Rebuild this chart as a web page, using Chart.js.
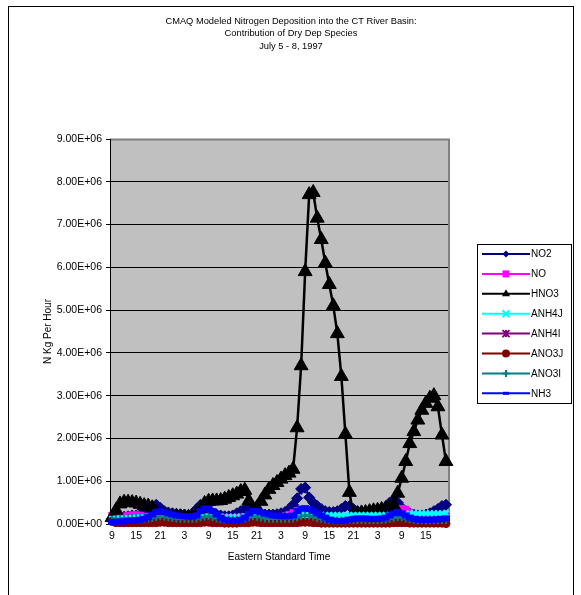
<!DOCTYPE html>
<html>
<head>
<meta charset="utf-8">
<title>CMAQ Dry Dep Species</title>
<script src="https://cdn.jsdelivr.net/npm/chart.js@4.4.1/dist/chart.umd.min.js"></script>
<style>
  html, body { margin: 0; padding: 0; background: #fff; }
  #wrap { position: relative; width: 581px; height: 595px; }
</style>
</head>
<body>
<div id="wrap"><canvas id="depChart" width="581" height="595"></canvas></div>
<script>
// ==================== データ ====================
// 時刻 (EST) 7/5 9時 〜 7/8 20時
const hours = [
  9, 10, 11, 12, 13, 14, 15, 16, 17, 18, 19, 20, 21, 22, 23,
  0, 1, 2, 3, 4, 5, 6, 7, 8, 9, 10, 11, 12, 13, 14, 15, 16, 17, 18, 19, 20, 21, 22, 23,
  0, 1, 2, 3, 4, 5, 6, 7, 8, 9, 10, 11, 12, 13, 14, 15, 16, 17, 18, 19, 20, 21, 22, 23,
  0, 1, 2, 3, 4, 5, 6, 7, 8, 9, 10, 11, 12, 13, 14, 15, 16, 17, 18, 19, 20
];

const seriesNames = ['NO2', 'NO', 'HNO3', 'ANH4J', 'ANH4I', 'ANO3J', 'ANO3I', 'NH3'];

const no2 = [
  0.12e6, 0.13e6, 0.15e6, 0.17e6, 0.18e6, 0.20e6, 0.20e6, 0.22e6, 0.25e6, 0.30e6, 0.38e6, 0.45e6, 0.38e6, 0.30e6, 0.27e6,
  0.25e6, 0.24e6, 0.23e6, 0.22e6, 0.21e6, 0.25e6, 0.35e6, 0.45e6, 0.35e6, 0.30e6, 0.25e6, 0.22e6, 0.20e6, 0.18e6, 0.18e6,
  0.20e6, 0.25e6, 0.30e6, 0.35e6, 0.40e6, 0.30e6, 0.25e6, 0.23e6, 0.22e6, 0.22e6, 0.22e6, 0.23e6, 0.25e6, 0.28e6,
  0.35e6, 0.45e6, 0.60e6, 0.82e6, 0.85e6, 0.62e6, 0.50e6, 0.42e6, 0.35e6, 0.30e6, 0.28e6, 0.28e6, 0.30e6, 0.35e6,
  0.42e6, 0.42e6, 0.35e6, 0.30e6, 0.27e6, 0.25e6, 0.25e6, 0.25e6, 0.27e6, 0.30e6,
  0.38e6, 0.50e6, 0.55e6, 0.50e6, 0.38e6, 0.30e6, 0.25e6, 0.22e6, 0.20e6, 0.20e6, 0.22e6, 0.25e6, 0.30e6, 0.35e6, 0.42e6, 0.45e6
];

const no = [
  0.20e6, 0.18e6, 0.17e6, 0.18e6, 0.20e6, 0.21e6, 0.21e6, 0.20e6, 0.18e6, 0.17e6, 0.16e6, 0.16e6, 0.15e6, 0.15e6, 0.15e6,
  0.15e6, 0.14e6, 0.14e6, 0.14e6, 0.15e6, 0.20e6, 0.27e6, 0.28e6, 0.22e6, 0.18e6, 0.16e6, 0.15e6, 0.15e6, 0.15e6, 0.15e6,
  0.15e6, 0.15e6, 0.16e6, 0.17e6, 0.18e6, 0.17e6, 0.16e6, 0.15e6, 0.15e6, 0.15e6, 0.15e6, 0.15e6, 0.16e6, 0.18e6,
  0.22e6, 0.26e6, 0.31e6, 0.33e6, 0.30e6, 0.24e6, 0.20e6, 0.18e6, 0.17e6, 0.16e6, 0.16e6, 0.16e6, 0.16e6, 0.16e6,
  0.17e6, 0.18e6, 0.18e6, 0.17e6, 0.17e6, 0.17e6, 0.17e6, 0.17e6, 0.17e6, 0.18e6,
  0.19e6, 0.21e6, 0.24e6, 0.30e6, 0.36e6, 0.34e6, 0.27e6, 0.22e6, 0.20e6, 0.19e6, 0.18e6, 0.18e6, 0.18e6, 0.18e6, 0.18e6, 0.18e6
];

const hno3 = [
  0.15e6, 0.32e6, 0.47e6, 0.51e6, 0.51e6, 0.50e6, 0.49e6, 0.46e6, 0.43e6, 0.42e6, 0.38e6, 0.26e6, 0.20e6, 0.18e6, 0.18e6,
  0.17e6, 0.17e6, 0.16e6, 0.16e6, 0.16e6, 0.17e6, 0.23e6, 0.36e6, 0.48e6, 0.53e6, 0.54e6, 0.54e6, 0.55e6, 0.58e6, 0.62e6,
  0.66e6, 0.70e6, 0.76e6, 0.79e6, 0.54e6, 0.27e6, 0.38e6, 0.53e6, 0.68e6, 0.81e6, 0.90e6, 0.97e6, 1.05e6, 1.13e6,
  1.19e6, 1.28e6, 2.25e6, 3.70e6, 5.90e6, 7.70e6, 7.75e6, 7.15e6, 6.65e6, 6.10e6, 5.60e6, 5.10e6, 4.45e6, 3.45e6,
  2.10e6, 0.74e6, 0.22e6, 0.24e6, 0.26e6, 0.27e6, 0.29e6, 0.31e6, 0.32e6, 0.34e6,
  0.36e6, 0.39e6, 0.44e6, 0.72e6, 1.07e6, 1.46e6, 1.88e6, 2.16e6, 2.43e6, 2.66e6, 2.82e6, 2.94e6, 3.00e6, 2.74e6, 2.08e6, 1.46e6
];

const anh4j = [
  0.12e6, 0.12e6, 0.13e6, 0.13e6, 0.14e6, 0.14e6, 0.15e6, 0.15e6, 0.15e6, 0.15e6, 0.15e6, 0.16e6, 0.16e6, 0.16e6, 0.16e6,
  0.16e6, 0.16e6, 0.16e6, 0.16e6, 0.16e6, 0.16e6, 0.17e6, 0.17e6, 0.17e6, 0.17e6, 0.17e6, 0.17e6, 0.17e6, 0.17e6, 0.17e6,
  0.17e6, 0.17e6, 0.17e6, 0.18e6, 0.18e6, 0.18e6, 0.18e6, 0.18e6, 0.18e6, 0.18e6, 0.18e6, 0.18e6, 0.18e6, 0.19e6,
  0.19e6, 0.20e6, 0.20e6, 0.20e6, 0.21e6, 0.21e6, 0.21e6, 0.21e6, 0.21e6, 0.21e6, 0.21e6, 0.21e6, 0.21e6, 0.21e6,
  0.21e6, 0.21e6, 0.21e6, 0.21e6, 0.21e6, 0.21e6, 0.21e6, 0.21e6, 0.21e6, 0.21e6,
  0.21e6, 0.21e6, 0.21e6, 0.22e6, 0.23e6, 0.24e6, 0.25e6, 0.25e6, 0.25e6, 0.25e6, 0.25e6, 0.25e6, 0.25e6, 0.25e6, 0.25e6, 0.25e6
];

const anh4i = [
  0.05e6, 0.05e6, 0.05e6, 0.05e6, 0.05e6, 0.05e6, 0.05e6, 0.05e6, 0.05e6, 0.05e6, 0.05e6, 0.06e6, 0.06e6, 0.06e6, 0.05e6,
  0.05e6, 0.05e6, 0.05e6, 0.05e6, 0.05e6, 0.05e6, 0.05e6, 0.06e6, 0.06e6, 0.06e6, 0.05e6, 0.05e6, 0.05e6, 0.05e6, 0.05e6,
  0.05e6, 0.05e6, 0.05e6, 0.05e6, 0.06e6, 0.06e6, 0.06e6, 0.05e6, 0.05e6, 0.05e6, 0.05e6, 0.05e6, 0.05e6, 0.05e6,
  0.05e6, 0.05e6, 0.06e6, 0.06e6, 0.06e6, 0.06e6, 0.05e6, 0.05e6, 0.05e6, 0.05e6, 0.05e6, 0.05e6, 0.05e6, 0.05e6,
  0.05e6, 0.05e6, 0.05e6, 0.05e6, 0.05e6, 0.05e6, 0.05e6, 0.05e6, 0.05e6, 0.05e6,
  0.05e6, 0.05e6, 0.06e6, 0.06e6, 0.06e6, 0.05e6, 0.05e6, 0.05e6, 0.05e6, 0.05e6, 0.05e6, 0.05e6, 0.05e6, 0.05e6, 0.05e6, 0.05e6
];

const ano3j = [
  0.06e6, 0.03e6, 0.03e6, 0.03e6, 0.03e6, 0.03e6, 0.03e6, 0.03e6, 0.03e6, 0.03e6, 0.03e6, 0.03e6, 0.04e6, 0.04e6, 0.03e6,
  0.03e6, 0.03e6, 0.03e6, 0.03e6, 0.03e6, 0.03e6, 0.03e6, 0.03e6, 0.04e6, 0.04e6, 0.03e6, 0.03e6, 0.03e6, 0.02e6, 0.02e6,
  0.02e6, 0.02e6, 0.03e6, 0.03e6, 0.03e6, 0.04e6, 0.04e6, 0.03e6, 0.03e6, 0.03e6, 0.03e6, 0.03e6, 0.03e6, 0.03e6,
  0.03e6, 0.03e6, 0.03e6, 0.04e6, 0.04e6, 0.04e6, 0.03e6, 0.03e6, 0.02e6, 0.02e6, 0.02e6, 0.02e6, 0.02e6, 0.02e6,
  0.02e6, 0.02e6, 0.02e6, 0.02e6, 0.02e6, 0.02e6, 0.02e6, 0.02e6, 0.02e6, 0.02e6,
  0.02e6, 0.02e6, 0.03e6, 0.03e6, 0.03e6, 0.03e6, 0.02e6, 0.02e6, 0.02e6, 0.02e6, 0.02e6, 0.02e6, 0.02e6, 0.02e6, 0.02e6, 0.01e6
];

const ano3i = [
  0.10e6, 0.11e6, 0.12e6, 0.13e6, 0.14e6, 0.14e6, 0.14e6, 0.14e6, 0.13e6, 0.13e6, 0.14e6, 0.16e6, 0.18e6, 0.17e6, 0.15e6,
  0.14e6, 0.13e6, 0.12e6, 0.12e6, 0.12e6, 0.12e6, 0.13e6, 0.15e6, 0.17e6, 0.18e6, 0.16e6, 0.13e6, 0.11e6, 0.10e6, 0.10e6,
  0.10e6, 0.10e6, 0.11e6, 0.13e6, 0.16e6, 0.18e6, 0.17e6, 0.15e6, 0.13e6, 0.12e6, 0.12e6, 0.12e6, 0.12e6, 0.12e6,
  0.12e6, 0.13e6, 0.15e6, 0.18e6, 0.20e6, 0.19e6, 0.17e6, 0.14e6, 0.12e6, 0.10e6, 0.09e6, 0.08e6, 0.08e6, 0.08e6,
  0.08e6, 0.09e6, 0.09e6, 0.09e6, 0.09e6, 0.09e6, 0.09e6, 0.09e6, 0.09e6, 0.09e6,
  0.10e6, 0.12e6, 0.14e6, 0.16e6, 0.15e6, 0.13e6, 0.11e6, 0.10e6, 0.09e6, 0.09e6, 0.09e6, 0.09e6, 0.09e6, 0.09e6, 0.09e6, 0.09e6
];

const nh3 = [
  0.05e6, 0.05e6, 0.06e6, 0.06e6, 0.07e6, 0.08e6, 0.09e6, 0.10e6, 0.12e6, 0.16e6, 0.22e6, 0.28e6, 0.30e6, 0.28e6, 0.25e6,
  0.22e6, 0.20e6, 0.19e6, 0.18e6, 0.17e6, 0.17e6, 0.20e6, 0.30e6, 0.36e6, 0.36e6, 0.30e6, 0.22e6, 0.15e6, 0.10e6, 0.08e6,
  0.08e6, 0.08e6, 0.10e6, 0.15e6, 0.25e6, 0.30e6, 0.30e6, 0.27e6, 0.24e6, 0.22e6, 0.20e6, 0.19e6, 0.18e6, 0.18e6,
  0.18e6, 0.20e6, 0.30e6, 0.36e6, 0.37e6, 0.35e6, 0.30e6, 0.25e6, 0.20e6, 0.15e6, 0.10e6, 0.08e6, 0.07e6, 0.07e6,
  0.08e6, 0.10e6, 0.12e6, 0.13e6, 0.13e6, 0.13e6, 0.12e6, 0.12e6, 0.12e6, 0.13e6,
  0.15e6, 0.20e6, 0.25e6, 0.28e6, 0.25e6, 0.20e6, 0.15e6, 0.12e6, 0.10e6, 0.10e6, 0.10e6, 0.10e6, 0.10e6, 0.11e6, 0.12e6, 0.13e6
];

const yTicks = [0, 1e6, 2e6, 3e6, 4e6, 5e6, 6e6, 7e6, 8e6, 9e6];

const titleLines = [
  'CMAQ Modeled Nitrogen Deposition into the CT River Basin:',
  'Contribution of Dry Dep Species',
  'July 5 - 8, 1997'
];

// ==================== 見た目 ====================
const FONT = 'Arial, "Liberation Sans", sans-serif';

// 系列ごとのスタイル (Excel の既定色)
const seriesStyles = [
  { color: '#000080', fill: '#000080', pointStyle: 'rectRot',  radius: 5.5, pointWidth: 1 },
  { color: '#FF00FF', fill: '#FF00FF', pointStyle: 'rect',     radius: 4.5, pointWidth: 1 },
  { color: '#000000', fill: '#000000', pointStyle: 'triangle', radius: 8,   pointWidth: 1 },
  { color: '#00FFFF', fill: '#00FFFF', pointStyle: 'crossRot', radius: 4,   pointWidth: 2 },
  { color: '#800080', fill: '#800080', pointStyle: 'star',     radius: 4,   pointWidth: 2 },
  { color: '#800000', fill: '#800000', pointStyle: 'circle',   radius: 4,   pointWidth: 1 },
  { color: '#008080', fill: '#008080', pointStyle: 'cross',    radius: 4,   pointWidth: 2 },
  { color: '#0000FF', fill: '#0000FF', pointStyle: 'line',     radius: 4,   pointWidth: 6 }
];

const seriesData = [no2, no, hno3, anh4j, anh4i, ano3j, ano3i, nh3];

// 指数表記 "9.00E+06"
function sciLabel(v) {
  if (v === 0) return '0.00E+00';
  const e = Math.floor(Math.log10(v) + 1e-9);
  const m = v / Math.pow(10, e);
  return m.toFixed(2) + 'E+' + String(e).padStart(2, '0');
}

// 凡例のマーカー (小さめ)
function drawLegendMarker(ctx, style, x, y) {
  const r = 3.5;
  ctx.save();
  ctx.fillStyle = style.fill;
  ctx.strokeStyle = style.color;
  ctx.lineWidth = 2;
  ctx.beginPath();
  switch (style.pointStyle) {
    case 'rectRot':
      ctx.moveTo(x, y - r); ctx.lineTo(x + r, y); ctx.lineTo(x, y + r); ctx.lineTo(x - r, y);
      ctx.closePath(); ctx.fill();
      break;
    case 'rect':
      ctx.fillRect(x - 3.5, y - 3.5, 7, 7);
      break;
    case 'triangle':
      ctx.moveTo(x, y - 4.5); ctx.lineTo(x + 4, y + 2.5); ctx.lineTo(x - 4, y + 2.5);
      ctx.closePath(); ctx.fill();
      break;
    case 'crossRot':
      ctx.moveTo(x - r, y - r); ctx.lineTo(x + r, y + r);
      ctx.moveTo(x + r, y - r); ctx.lineTo(x - r, y + r);
      ctx.stroke();
      break;
    case 'star':
      ctx.moveTo(x - r, y - r); ctx.lineTo(x + r, y + r);
      ctx.moveTo(x + r, y - r); ctx.lineTo(x - r, y + r);
      ctx.moveTo(x, y - r); ctx.lineTo(x, y + r);
      ctx.stroke();
      break;
    case 'circle':
      ctx.arc(x, y, 4, 0, Math.PI * 2); ctx.fill();
      break;
    case 'cross':
      ctx.moveTo(x - r, y); ctx.lineTo(x + r, y);
      ctx.moveTo(x, y - r); ctx.lineTo(x, y + r);
      ctx.stroke();
      break;
    case 'line':
      ctx.fillRect(x - 3, y - 1.5, 6, 3);
      break;
  }
  ctx.restore();
}

// 背景・枠・タイトル・凡例
const decorPlugin = {
  id: 'decor',
  beforeDraw(chart) {
    const { ctx, chartArea: a } = chart;
    ctx.save();
    ctx.fillStyle = '#FFFFFF';
    ctx.fillRect(0, 0, chart.width, chart.height);
    ctx.fillStyle = '#C0C0C0';
    ctx.fillRect(a.left, a.top, a.right - a.left, a.bottom - a.top);
    ctx.restore();
  },
  beforeDatasetsDraw(chart) {
    const { ctx, chartArea: a } = chart;
    ctx.save();
    ctx.strokeStyle = '#808080';
    ctx.lineWidth = 2;
    ctx.beginPath();
    ctx.moveTo(a.left, a.top + 0.5);
    ctx.lineTo(a.right + 1, a.top + 0.5);
    ctx.lineTo(a.right + 1, a.bottom);
    ctx.stroke();
    ctx.strokeStyle = '#000000';
    ctx.lineWidth = 1;
    ctx.beginPath();
    ctx.moveTo(a.left + 0.5, a.top);
    ctx.lineTo(a.left + 0.5, a.bottom + 0.5);
    ctx.lineTo(a.right + 1, a.bottom + 0.5);
    ctx.stroke();
    ctx.restore();
  },
  afterDraw(chart) {
    const { ctx, chartArea: a } = chart;
    ctx.save();

    // 外枠
    ctx.strokeStyle = '#000000';
    ctx.lineWidth = 1;
    ctx.strokeRect(8.5, 6.5, 565, 600);

    // タイトル
    ctx.fillStyle = '#000000';
    ctx.font = '9.3px ' + FONT;
    ctx.textAlign = 'center';
    ctx.textBaseline = 'middle';
    titleLines.forEach((t, i) => ctx.fillText(t, 291, 21 + i * 12.5));

    // 軸タイトル
    ctx.font = '10px ' + FONT;
    ctx.fillText('Eastern Standard Time', (a.left + a.right) / 2, 557);
    ctx.save();
    ctx.translate(48, (a.top + a.bottom) / 2);
    ctx.rotate(-Math.PI / 2);
    ctx.fillText('N Kg Per Hour', 0, 0);
    ctx.restore();

    // 凡例
    const lx = 477.5, ly = 244.5, lw = 94, lh = 159;
    ctx.fillStyle = '#FFFFFF';
    ctx.fillRect(lx, ly, lw, lh);
    ctx.strokeStyle = '#000000';
    ctx.strokeRect(lx, ly, lw, lh);
    ctx.textAlign = 'left';
    seriesNames.forEach((name, i) => {
      const st = seriesStyles[i];
      const y = 254 + i * 19.9;
      ctx.strokeStyle = st.color;
      ctx.lineWidth = 2;
      ctx.beginPath();
      ctx.moveTo(482, y);
      ctx.lineTo(530, y);
      ctx.stroke();
      drawLegendMarker(ctx, st, 506, y);
      ctx.fillStyle = '#000000';
      ctx.font = '10px ' + FONT;
      ctx.fillText(name, 531, y + 0.5);
    });
    ctx.restore();
  }
};

// ==================== グラフ作成 ====================
const datasets = seriesNames.map((name, i) => {
  const st = seriesStyles[i];
  return {
    label: name,
    data: seriesData[i],
    borderColor: st.color,
    backgroundColor: st.fill,
    borderWidth: name === 'HNO3' ? 2.5 : 2,
    tension: 0,
    pointStyle: st.pointStyle,
    pointRadius: st.radius,
    pointBackgroundColor: st.fill,
    pointBorderColor: st.color,
    pointBorderWidth: st.pointWidth,
    clip: false,
    order: seriesNames.length - i
  };
});

const ctx = document.getElementById('depChart').getContext('2d');
const depChart = new Chart(ctx, {
  type: 'line',
  data: { labels: hours, datasets: datasets },
  options: {
    responsive: false,
    animation: false,
    devicePixelRatio: 1,
    layout: { padding: { left: 0, right: 133, top: 139, bottom: 0 } },
    plugins: {
      legend: { display: false },
      title: { display: false },
      tooltip: { enabled: false }
    },
    scales: {
      x: {
        type: 'category',
        offset: true,
        afterFit(scale) { scale.height = 71; },
        grid: { display: false, drawTicks: false },
        border: { display: false },
        ticks: {
          autoSkip: false,
          maxRotation: 0,
          minRotation: 0,
          padding: 6,
          color: '#000000',
          font: { family: FONT, size: 10.5 },
          callback(val, index) { return index % 6 === 0 ? String(hours[index]) : ''; }
        }
      },
      y: {
        min: 0,
        max: 9e6,
        afterFit(scale) { scale.width = 110; },
        afterBuildTicks(scale) { scale.ticks = yTicks.map(v => ({ value: v })); },
        grid: { color: '#000000', lineWidth: 1, tickLength: 4, drawTicks: true, tickColor: '#000000' },
        border: { display: false },
        ticks: {
          padding: 4,
          color: '#000000',
          font: { family: FONT, size: 10.5 },
          callback(v) { return sciLabel(v); }
        }
      }
    }
  },
  plugins: [decorPlugin]
});
</script>
</body>
</html>
